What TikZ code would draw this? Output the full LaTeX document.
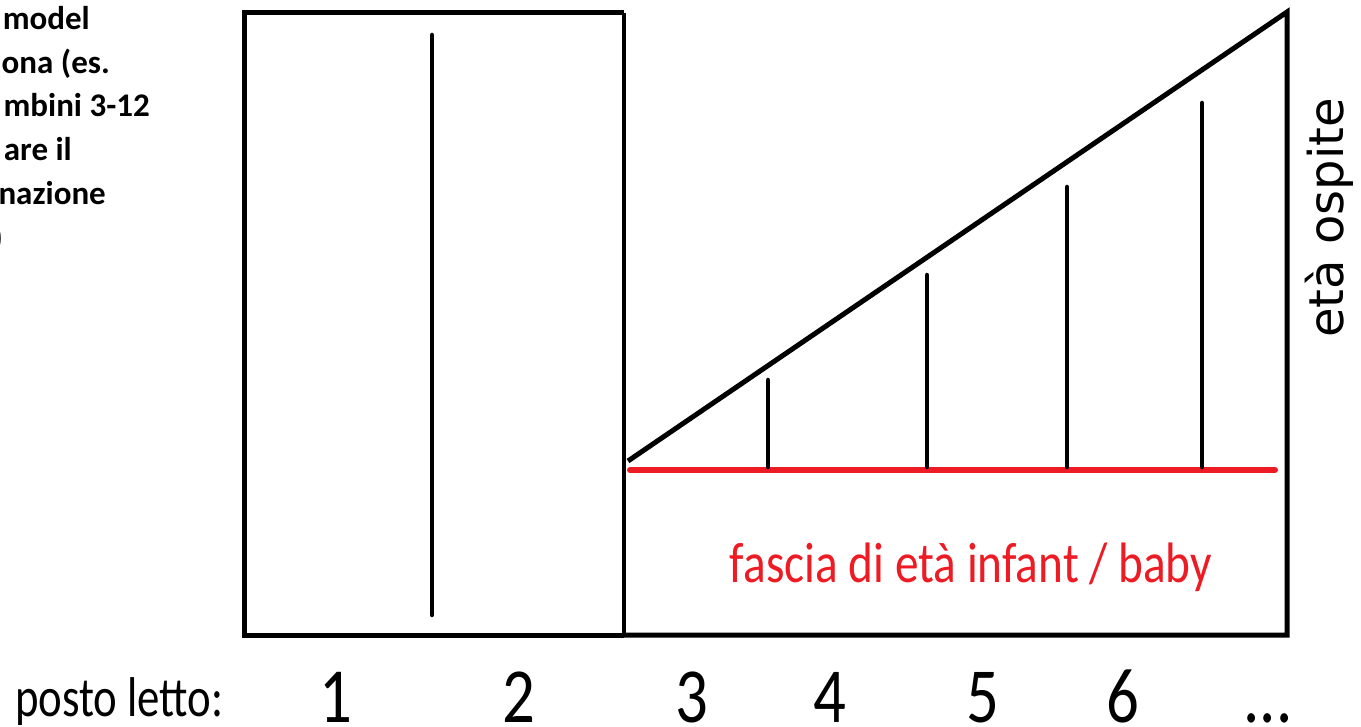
\documentclass[tikz,border=0pt]{standalone}
\usepackage{fontspec}
\setmainfont{Carlito}
\newfontfamily\dejavu{DejaVu Sans}
\usepackage{xcolor}
\usetikzlibrary{positioning, calc}

\definecolor{fasciared}{HTML}{ED1C24}
\newcommand{\narrow}[1]{\scalebox{0.83}[1]{#1}}

\begin{document}
\begin{tikzpicture}[x=1pt, y=-1pt,
    frame/.style={draw=black, line width=5pt},
    thinframe/.style={draw=black, line width=3.5pt},
    tick/.style={draw=black, line width=4.5pt, line cap=round},
    band/.style={draw=fasciared, line width=6pt, line cap=round},
    note/.style={inner sep=0pt, anchor=base east, font=\fontsize{33}{36}\selectfont\bfseries},
    bedlabel/.style={inner sep=0pt, anchor=base, font=\fontsize{78}{80}\selectfont},
    axislabel/.style={inner sep=0pt, font=\fontsize{56}{60}\selectfont}]

    \useasboundingbox (0,0) rectangle (1361,727);
    \clip (0,0) rectangle (1361,727);

    % corners of the chart
    \coordinate (tl) at (244.5,13);
    \coordinate (bl) at (244.5,635);
    \coordinate (tm) at (624,13);
    \coordinate (bm) at (624,635);
    \coordinate (tr) at (1287,12);
    \coordinate (br) at (1287,635);
    \coordinate (slope) at (628,461);

    % left block (beds 1-2)
    \draw [frame, line join=miter] (tm) -- (tl) -- (bl) -- (bm);
    \draw [thinframe] (tm) -- (bm);
    \coordinate (adulttop) at (432,35);
    \coordinate (adultbot) at (432,615);
    \draw [tick] (adulttop) -- (adultbot);

    % right block (beds 3 ...)
    \draw [frame, line join=miter] (bm) -- (br) -- (tr) -- (slope);

    % infant band
    \coordinate (bandl) at (630,470);
    \coordinate (bandr) at (1275,470);
    \draw [band] (bandl) -- (bandr);

    % age ticks
    \foreach \x/\top in {768/380, 927/275, 1067/187, 1202/103} {
        \draw [tick] (\x,\top) -- (\x,467);
    }

    \node [text=fasciared, anchor=base, inner sep=0pt,
           font=\fontsize{57}{60}\selectfont] (fascia) at (971,582)
          {\narrow{fascia di età infant / baby}};
    \node [rotate=90, anchor=base, inner sep=0pt,
           font=\dejavu\fontsize{48}{52}\selectfont] (eta) at (1343,218) {età ospite};

    % clipped note at top left
    \node [note] (n1) at (90,30)  {model};
    \node [note] (n2) at (110,74) {ona (es.};
    \node [note] (n3) at (150,117) {mbini 3-12};
    \node [note] (n4) at (72,161) {are il};
    \node [note] (n5) at (106,205) {nazione};
    \node [note] (n6) at (3,249) {)};

    % bed numbers
    \node [axislabel, anchor=base west] (posto) at (15,716)
          {\scalebox{0.8}[1]{posto letto:}};
    \foreach \n/\x in {1/336, 2/519, 3/692, 4/830, 5/983, 6/1123} {
        \node [bedlabel] (bed\n) at (\x,722) {\narrow{\n}};
    }
    \node [bedlabel] (bedmore) at (1268,722) {\narrow{...}};
\end{tikzpicture}
\end{document}
